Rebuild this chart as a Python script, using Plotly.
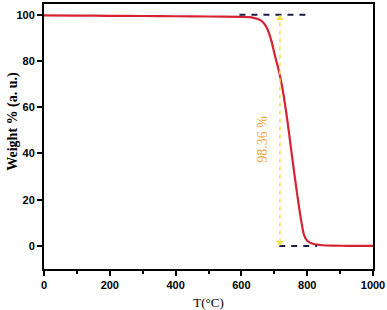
import plotly.graph_objects as go

temp = [0, 100, 200, 300, 400, 500, 600, 624, 640, 652, 664, 675, 684, 692, 700, 708,
        715, 725, 740, 750, 765, 781, 791, 800, 816, 840, 876, 920, 1000]
weight = [99.8, 99.7, 99.6, 99.5, 99.4, 99.3, 99.1, 99.0, 98.6, 98.1, 97.0, 95.0, 92.0,
          88.3, 83.5, 79.0, 75.0, 68.0, 54.0, 43.0, 27.0, 11.5, 4.4, 2.2, 0.9, 0.4,
          0.1, 0.05, 0.0]

top_ref_x = [594, 800]
top_ref_y = [100, 100]
bot_ref_x = [715, 830]
bot_ref_y = [0, 0]
loss_x = [717, 717]
loss_y = [1.5, 98.5]
loss_label = "98.36 %"
label_pos = (663, 46)

x_ticks = [0, 200, 400, 600, 800, 1000]
y_ticks = [0, 20, 40, 60, 80, 100]

fig = go.Figure()
fig.add_trace(go.Scatter(x=temp, y=weight, mode="lines",
                         line=dict(color="#d42433", width=2.2, shape="spline", smoothing=0.8),
                         showlegend=False))
fig.add_trace(go.Scatter(x=top_ref_x, y=top_ref_y, mode="lines",
                         line=dict(color="#1c1c45", width=2, dash="6px,6px"), showlegend=False))
fig.add_trace(go.Scatter(x=bot_ref_x, y=bot_ref_y, mode="lines",
                         line=dict(color="#1c1c45", width=2, dash="6px,6px"), showlegend=False))
fig.add_trace(go.Scatter(x=loss_x, y=loss_y, mode="lines",
                         line=dict(color="#f2e24a", width=1.6, dash="4px,4px"), showlegend=False))
fig.add_trace(go.Scatter(x=loss_x, y=loss_y, mode="markers",
                         marker=dict(symbol=["triangle-down", "triangle-up"], size=7,
                                     color="#f2e24a"), showlegend=False))

fig.add_annotation(x=label_pos[0], y=label_pos[1], text=loss_label, showarrow=False,
                   textangle=-90, font=dict(family="Liberation Serif", size=14, color="#f0a53c"))

fig.add_annotation(xref="paper", yref="paper", x=-0.094, y=0.556, text="<b>Weight % (a. u.)</b>",
                   showarrow=False, textangle=-90, xanchor="center", yanchor="middle",
                   font=dict(family="Liberation Serif", size=14, color="black"))

axis_common = dict(showline=True, linecolor="black", linewidth=2, mirror=True,
                   ticks="outside", ticklen=5, tickwidth=2, tickcolor="black",
                   showgrid=False, zeroline=False,
                   tickfont=dict(family="Liberation Sans", size=11, color="black", weight="bold"))

fig.update_xaxes(range=[0, 1000], tickvals=x_ticks, **axis_common,
                 minor=dict(dtick=100, ticks="outside", ticklen=3, tickwidth=1.5, tickcolor="black"),
                 title=dict(text="T(°C)", standoff=8,
                            font=dict(family="Liberation Serif", size=13, color="black")))
fig.update_yaxes(range=[-10, 104.7], tickvals=y_ticks, **axis_common)

fig.update_layout(width=387, height=310, margin=dict(l=44, r=13, t=2, b=40),
                  plot_bgcolor="white", paper_bgcolor="white")
fig.write_html("out.html", config={"displayModeBar": False},
               post_script="document.body.style.margin='0px';document.body.style.padding='0px';")
